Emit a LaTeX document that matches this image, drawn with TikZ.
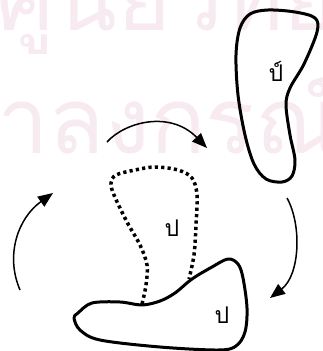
\documentclass[tikz,border=0pt]{standalone}
\usepackage{fontspec}
\newfontfamily\thaifont[Script=Thai]{Loma}
\usetikzlibrary{arrows.meta}
\definecolor{wmpink}{RGB}{247,234,241}
\begin{document}
\begin{tikzpicture}[x=1pt,y=-1pt,
  outline/.style={line width=3pt, line join=round},
  dotline/.style={line width=3.5pt, dash pattern=on 3.2pt off 3.2pt},
  turn/.style={line width=1.5pt, -{Triangle[length=15pt,width=12pt]}},
  lbl/.style={font=\thaifont\fontsize{23}{23}\selectfont, inner sep=0pt},
  wm/.style={font=\thaifont\fontsize{92}{92}\selectfont, text=wmpink, inner sep=0pt}]
\useasboundingbox (0,0) rectangle (322,351);
% faint watermark
\begin{scope}
  \clip (0,0) rectangle (322,351);
  \node[wm, anchor=base west] (wmA) at (-4,30) {ศูนย์วิทยทรัพยากร};
  \node[wm, anchor=base west] (wmB) at (-3,153) {าลงกรณ์มหาวิทยาลัย};
\end{scope}
% top-right body
\draw[outline] plot[smooth cycle, tension=0.55] coordinates {
  (240,28) (250,14) (268,10) (295,12) (315,18) (317,32) (304,64) (290,88)
  (286,105) (290,135) (295,160) (292,176) (282,182) (266,179) (254,164)
  (245,135) (238,95) (236,55)};
% bottom body
\draw[outline] plot[smooth cycle, tension=0.55] coordinates {
  (78,313) (92,303) (120,302) (142,305) (160,301) (175,293) (192,279)
  (212,267) (228,259) (238,264) (243,278) (247,308) (245,332) (236,346)
  (218,350) (160,347) (100,340) (80,330) (74,318)};
% dotted outline
\draw[dotline] plot[smooth, tension=0.55] coordinates {
  (142,304) (146,285) (147,265) (140,245) (127,222) (114,195) (111,183)
  (116,175) (135,170) (155,167) (178,170) (192,178) (197,195) (196,225)
  (194,255) (189,279)};
% labels
\node[lbl] (p1) at (276,71) {ป์};
\node[lbl] (p2) at (172,228) {ป};
\node[lbl] (p3) at (222,315) {ป};
% arrows
\coordinate (a1s) at (107,142); \coordinate (a1e) at (207,148);
\coordinate (a2s) at (20,290);  \coordinate (a2e) at (53,193);
\coordinate (a3s) at (287,198); \coordinate (a3e) at (270,298);
\draw[turn] (a1s) .. controls (125,122) and (170,110) .. (a1e);
\draw[turn] (a2s) .. controls (5,255) and (18,218) .. (a2e);
\draw[turn] (a3s) .. controls (302,225) and (300,275) .. (a3e);
\end{tikzpicture}
\end{document}
